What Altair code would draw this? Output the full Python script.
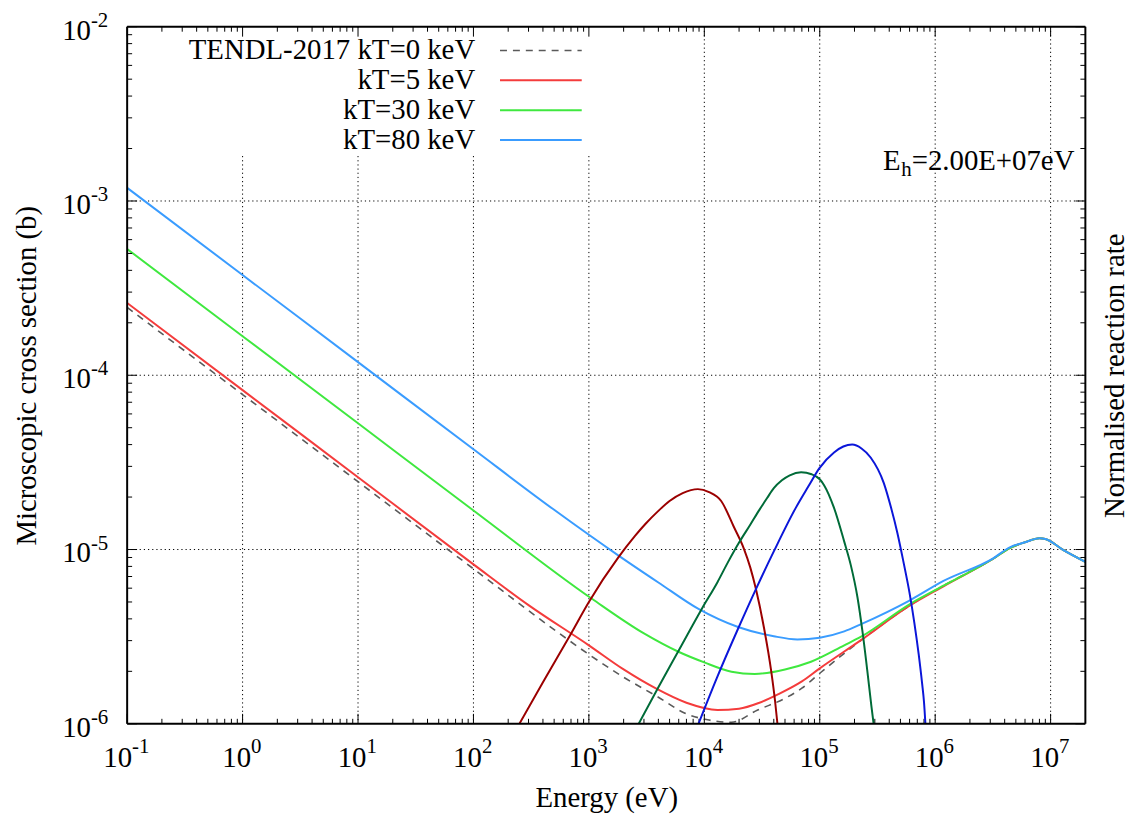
import altair as alt
import pandas as pd

W, H = 965, 702
FONT = "'Liberation Serif', 'Times New Roman', Times, serif"

# ---------------- values ----------------
# microscopic cross sections (b) vs energy (eV)
e_t0 = [0.1, 1, 10, 100, 500, 1000, 2000, 4000, 6800, 11000, 17200, 29000, 50000, 70000,
        100000, 226000, 600000, 1180000, 3180000, 4430000, 6000000, 8000000, 9000000, 12700000, 20000000]
s_t0 = [2.45e-4, 7.75e-5, 2.45e-5, 7.75e-6, 3.47e-6, 2.5e-6, 1.85e-6, 1.42e-6, 1.15e-6, 1.05e-6, 1.02e-6,
        1.2e-6, 1.4e-6, 1.6e-6, 1.95e-6, 3.0e-6, 4.76e-6, 6.2e-6, 8.85e-6, 1.02e-5, 1.1e-5, 1.16e-5,
        1.15e-5, 1.0e-5, 8.5e-6]

e_t5 = [0.1, 1, 10, 100, 300, 1000, 2000, 3770, 7000, 13000, 20000, 30000, 43000, 70000, 100000,
        226000, 600000, 1180000, 3180000, 4430000, 6000000, 8000000, 9000000, 12700000, 20000000]
s_t5 = [2.6e-4, 8.22e-5, 2.6e-5, 8.22e-6, 4.8e-6, 2.82e-6, 2.05e-6, 1.6e-6, 1.32e-6, 1.2e-6, 1.22e-6,
        1.32e-6, 1.47e-6, 1.75e-6, 2.08e-6, 3.01e-6, 4.76e-6, 6.15e-6, 8.85e-6, 1.02e-5, 1.1e-5,
        1.16e-5, 1.15e-5, 1.0e-5, 8.5e-6]

e_t30 = [0.1, 1, 10, 100, 1070, 3000, 5970, 10000, 17200, 27300, 50000, 84000, 163000, 226000,
         600000, 1180000, 3180000, 4430000, 6000000, 8000000, 9000000, 12700000, 20000000]
s_t30 = [5.3e-4, 1.676e-4, 5.3e-5, 1.676e-5, 5.2e-6, 3.3e-6, 2.59e-6, 2.25e-6, 1.99e-6, 1.93e-6,
         2.05e-6, 2.27e-6, 2.82e-6, 3.15e-6, 4.85e-6, 6.2e-6, 8.85e-6, 1.02e-5, 1.1e-5, 1.16e-5,
         1.15e-5, 1.0e-5, 8.5e-6]

e_t80 = [0.1, 1, 10, 100, 500, 1820, 4000, 8900, 19600, 40000, 64000, 100000, 163000, 226000,
         610000, 1180000, 3180000, 4430000, 6000000, 8000000, 9000000, 12700000, 20000000]
s_t80 = [1.19e-3, 3.76e-4, 1.19e-4, 3.76e-5, 1.69e-5, 9.2e-6, 6.47e-6, 4.56e-6, 3.59e-6, 3.18e-6,
         3.05e-6, 3.12e-6, 3.39e-6, 3.72e-6, 5.13e-6, 6.6e-6, 8.9e-6, 1.03e-5, 1.1e-5, 1.16e-5,
         1.15e-5, 1.0e-5, 8.5e-6]

# normalised reaction rate (arbitrary units, right axis)
r5_e = [250, 400, 700, 1000, 1800, 2500, 3100, 4000, 5000, 6500, 8800, 11000, 14000, 18000,
        22000, 25000, 28000, 33000, 38000, 41000, 43000]
r5_v = [1.0e-4, 1.733e-4, 3.29e-4, 5.0e-4, 9.01e-4, 1.193e-3, 1.405e-3, 1.666e-3, 1.899e-3, 2.108e-3,
        2.221e-3, 2.135e-3, 1.899e-3, 1.351e-3, 1.013e-3, 7.9e-4, 5.93e-4, 3.51e-4, 2.0e-4,
        1.351e-4, 1.0e-4]

r30_e = [2700, 4000, 6000, 9500, 13000, 16000, 20000, 25000, 30000, 35000, 40000, 47000, 55000,
         69000, 85000, 100000, 109000, 133000, 163000, 186000, 212000, 234000, 258000, 280000, 293000]
r30_v = [1.0e-4, 1.622e-4, 2.633e-4, 4.56e-4, 6.494e-4, 8.436e-4, 1.096e-3, 1.387e-3, 1.688e-3,
         1.975e-3, 2.25e-3, 2.498e-3, 2.667e-3, 2.774e-3, 2.703e-3, 2.531e-3, 2.34e-3, 1.732e-3,
         1.11e-3, 8.11e-4, 5.34e-4, 3.42e-4, 2.026e-4, 1.266e-4, 1.0e-4]

r80_e = [8900, 12800, 19600, 28000, 40000, 62000, 80000, 99000, 133000, 160000, 191000, 230000,
         276000, 359000, 415000, 470000, 530000, 600000, 660000, 720000, 770000, 800000, 823000]
r80_v = [1.0e-4, 1.824e-4, 3.51e-4, 5.93e-4, 9.75e-4, 1.734e-3, 2.312e-3, 2.924e-3, 3.606e-3, 3.9e-3,
         4.0e-3, 3.80e-3, 3.373e-3, 2.404e-3, 1.734e-3, 1.249e-3, 8.548e-4, 5.623e-4, 3.797e-4,
         2.498e-4, 1.71e-4, 1.334e-4, 1.0e-4]

series_names = ["TENDL-2017 kT=0 keV", "kT=5 keV", "kT=30 keV", "kT=80 keV"]
series_colors = ["#5a5a5a", "#f43c3c", "#3fe83f", "#3a9cff"]
rate_names = ["rate kT=5 keV", "rate kT=30 keV", "rate kT=80 keV"]
rate_colors = ["#9b0000", "#006b38", "#0b16d9"]

x_major = [0.1, 1, 10, 1e2, 1e3, 1e4, 1e5, 1e6, 1e7]
x_major_exp = ["-1", "0", "1", "2", "3", "4", "5", "6", "7"]
y_major = [1e-6, 1e-5, 1e-4, 1e-3, 1e-2]
y_major_exp = ["-6", "-5", "-4", "-3", "-2"]
x_minor = [k * 10.0 ** n for n in range(-1, 8) for k in range(2, 10) if k * 10.0 ** n < 2e7]
y_minor = [k * 10.0 ** n for n in range(-6, -2) for k in range(2, 10)]
label_eh = ["E", "h", "=2.00E+07eV"]

# ---------------- tables ----------------
rows = []
for name, ee, ss in zip(series_names, [e_t0, e_t5, e_t30, e_t80], [s_t0, s_t5, s_t30, s_t80]):
    for i, (a, b) in enumerate(zip(ee, ss)):
        rows.append({"series": name, "E": a, "sigma": b, "i": i})
cs_df = pd.DataFrame(rows)

rrows = []
for name, ee, vv in zip(rate_names, [r5_e, r30_e, r80_e], [r5_v, r30_v, r80_v]):
    for i, (a, b) in enumerate(zip(ee, vv)):
        rrows.append({"series": name, "E": a, "rate": b, "i": i})
rate_df = pd.DataFrame(rrows)

xs = alt.Scale(type="log", domain=[0.1, 2e7], nice=False)
ys = alt.Scale(type="log", domain=[1e-6, 1e-2], nice=False)
rs = alt.Scale(type="log", domain=[1e-4, 1.0], nice=False)

xaxis = alt.Axis(title="Energy (eV)", labels=False, ticks=False, domain=False, grid=False,
                 titleY=74, titleBaseline="middle", titleFont=FONT, titleFontSize=29,
                 titleFontWeight="normal", titleColor="black")
yaxis = alt.Axis(title="Microscopic cross section (b)", labels=False, ticks=False, domain=False,
                 grid=False, titleX=-101, titleY=H / 2, titleAngle=270, titleBaseline="middle",
                 titleFont=FONT, titleFontSize=29, titleFontWeight="normal", titleColor="black")
raxis = alt.Axis(title="Normalised reaction rate", orient="right", labels=False, ticks=False,
                 domain=False, grid=False, titleX=38, titleY=H / 2, titleAngle=270,
                 titleBaseline="alphabetic", titleFont=FONT, titleFontSize=29,
                 titleFontWeight="normal", titleColor="black")

X = lambda f: alt.X(f, type="quantitative", scale=xs, axis=xaxis)
Y = lambda f: alt.Y(f, type="quantitative", scale=ys, axis=yaxis)

one = pd.DataFrame({"a": [0]})
xmaj_df = pd.DataFrame({"v": x_major, "e": x_major_exp})
xmin_df = pd.DataFrame({"v": x_minor})
ymaj_df = pd.DataFrame({"v": y_major, "e": y_major_exp})
ymin_df = pd.DataFrame({"v": y_minor})

layers = []
# grid
layers.append(alt.Chart(xmaj_df).transform_filter("datum.v > 0.11").mark_rule(
    color="black", strokeWidth=1, strokeDash=[1.2, 3]).encode(x=X("v"), y=alt.value(0), y2=alt.value(H)))
layers.append(alt.Chart(ymaj_df).transform_filter("datum.v > 1.1e-6 && datum.v < 0.9e-2").mark_rule(
    color="black", strokeWidth=1, strokeDash=[1.2, 3]).encode(y=Y("v"), x=alt.value(0), x2=alt.value(W)))
# key box
layers.append(alt.Chart(one).mark_rect(fill="white", stroke=None).encode(
    x=alt.value(2), x2=alt.value(472), y=alt.value(2), y2=alt.value(128)))
# cross sections
layers.append(alt.Chart(cs_df).transform_filter(alt.datum.series == series_names[0]).mark_line(
    clip=True, strokeWidth=1.6, strokeDash=[7, 6], interpolate="monotone", color=series_colors[0]).encode(
    x=X("E"), y=Y("sigma"), order="i:Q"))
for name, col in zip(series_names[1:], series_colors[1:]):
    layers.append(alt.Chart(cs_df).transform_filter(alt.datum.series == name).mark_line(
        clip=True, strokeWidth=2, interpolate="monotone", color=col).encode(
        x=X("E"), y=Y("sigma"), order="i:Q"))
# ticks
for df, ln, enc in [(xmaj_df, 10, "x"), (xmin_df, 5, "x"), (ymaj_df, 10, "y"), (ymin_df, 5, "y")]:
    if enc == "x":
        layers.append(alt.Chart(df).mark_rule(color="black", strokeWidth=1).encode(
            x=X("v"), y=alt.value(H), y2=alt.value(H - ln)))
        layers.append(alt.Chart(df).mark_rule(color="black", strokeWidth=1).encode(
            x=X("v"), y=alt.value(0), y2=alt.value(ln)))
    else:
        layers.append(alt.Chart(df).mark_rule(color="black", strokeWidth=1).encode(
            y=Y("v"), x=alt.value(0), x2=alt.value(ln)))
        layers.append(alt.Chart(df).mark_rule(color="black", strokeWidth=1).encode(
            y=Y("v"), x=alt.value(W), x2=alt.value(W - ln)))
# tick labels (10 with superscript exponent)
neg = "datum.v < 0.5"
pos = "datum.v > 0.5"
for flt, off in [(neg, 5), (pos, 8.5)]:
    layers.append(alt.Chart(xmaj_df).transform_filter(flt).mark_text(
        font=FONT, fontSize=29, align="right", baseline="alphabetic", dx=off, color="black").encode(
        x=X("v"), y=alt.value(H + 44), text=alt.value("10")))
    layers.append(alt.Chart(xmaj_df).transform_filter(flt).mark_text(
        font=FONT, fontSize=21, align="left", baseline="alphabetic", dx=off, color="black").encode(
        x=X("v"), y=alt.value(H + 29), text="e:N"))
layers.append(alt.Chart(ymaj_df).mark_text(
    font=FONT, fontSize=29, align="right", baseline="alphabetic", dy=13, color="black").encode(
    y=Y("v"), x=alt.value(-36.5), text=alt.value("10")))
layers.append(alt.Chart(ymaj_df).mark_text(
    font=FONT, fontSize=21, align="left", baseline="alphabetic", dy=0, color="black").encode(
    y=Y("v"), x=alt.value(-36.5), text="e:N"))
# key
key_y = [24, 54, 84, 114]
for name, col, yy in zip(series_names, series_colors, key_y):
    layers.append(alt.Chart(pd.DataFrame({"label": [name]})).mark_text(
        font=FONT, fontSize=29, align="right", baseline="middle", color="black").encode(
        x=alt.value(350.5), y=alt.value(yy), text="label:N"))
    dashed = name == series_names[0]
    layers.append(alt.Chart(one).mark_rule(color=col, strokeWidth=1.6 if dashed else 2,
                                           strokeDash=[7, 6] if dashed else [1, 0]).encode(
        x=alt.value(375.5), x2=alt.value(457.8), y=alt.value(yy)))
# E_h label
eh = pd.DataFrame({"t": label_eh})
layers.append(alt.Chart(eh).transform_filter("datum.t == '=2.00E+07eV'").mark_text(
    font=FONT, fontSize=29, align="right", baseline="alphabetic", color="black").encode(
    x=alt.value(954), y=alt.value(144), text="t:N"))
layers.append(alt.Chart(eh).transform_filter("datum.t == 'h'").mark_text(
    font=FONT, fontSize=21, align="right", baseline="alphabetic", color="black").encode(
    x=alt.value(790), y=alt.value(150), text="t:N"))
layers.append(alt.Chart(eh).transform_filter("datum.t == 'E'").mark_text(
    font=FONT, fontSize=29, align="right", baseline="alphabetic", color="black").encode(
    x=alt.value(779), y=alt.value(144), text="t:N"))

main = alt.layer(*layers)

hist_layers = []
for name, col in zip(rate_names, rate_colors):
    hist_layers.append(alt.Chart(rate_df).transform_filter(alt.datum.series == name).mark_line(
        clip=True, strokeWidth=2, interpolate="monotone", color=col).encode(
        x=X("E"),
        y=alt.Y("rate:Q", scale=rs, axis=raxis),
        order="i:Q",
    ))
hist = alt.layer(*hist_layers)

frame = alt.layer(
    alt.Chart(one).mark_rule(color="black", strokeWidth=2).encode(x=alt.value(0), x2=alt.value(W), y=alt.value(0)),
    alt.Chart(one).mark_rule(color="black", strokeWidth=2).encode(x=alt.value(0), x2=alt.value(W), y=alt.value(H)),
    alt.Chart(one).mark_rule(color="black", strokeWidth=2).encode(x=alt.value(0), y=alt.value(0), y2=alt.value(H)),
    alt.Chart(one).mark_rule(color="black", strokeWidth=2).encode(x=alt.value(W), y=alt.value(0), y2=alt.value(H)),
)

chart = alt.layer(main, hist, frame).resolve_scale(y="independent").properties(
    width=W, height=H,
    padding={"left": 120, "top": 16, "right": 51, "bottom": 88},
    autosize=alt.AutoSizeParams(type="none"),
    background="white",
).configure_view(stroke=None)

chart.save("out.html", embed_options={"renderer": "svg", "actions": False})
